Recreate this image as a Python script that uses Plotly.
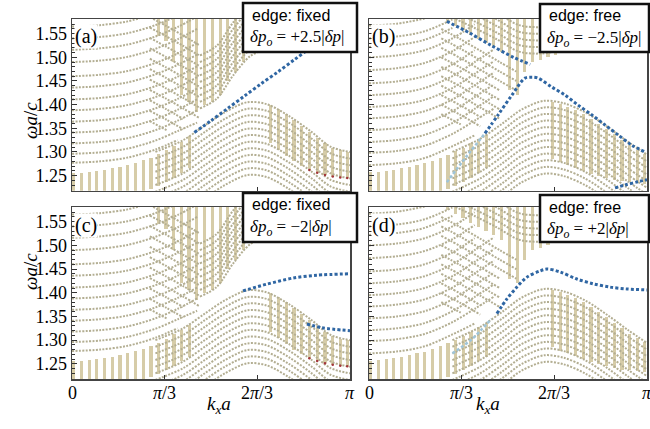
import plotly.graph_objects as go

# ---------------- tick data ----------------
K_TICKS = [0, 1/3, 2/3, 1]
K_TICK_TEXT = ["0", "<i>π</i>/3", "2<i>π</i>/3", "<i>π</i>"]
W_TICKS = [1.25, 1.30, 1.35, 1.40, 1.45, 1.50, 1.55]
W_RANGE = [1.218, 1.581]

# ---------------- bulk bands, fixed edge (panels a, c) ----------------
FIX_RISE_K = [0, 0.10, 0.20, 0.30, 0.38, 0.45]
FIX_RISE_BANDS = [
    [1.277, 1.280, 1.288, 1.305, 1.325, None],
    [1.296, 1.299, 1.307, 1.324, 1.344, 1.362],
    [1.318, 1.321, 1.329, 1.346, 1.366, 1.388],
    [1.341, 1.344, 1.352, 1.369, 1.389, 1.411],
    [1.364, 1.367, 1.375, 1.392, 1.412, 1.434],
    [1.388, 1.391, 1.399, 1.416, 1.436, 1.458],
    [1.411, 1.414, 1.422, 1.439, 1.459, 1.481],
    [1.436, 1.439, 1.447, 1.464, 1.484, 1.506],
    [1.460, 1.463, 1.471, 1.488, 1.508, 1.530],
    [1.490, 1.493, 1.501, 1.518, 1.538, 1.560],
    [1.516, 1.519, 1.527, 1.544, 1.564, 1.586],
    [1.540, 1.543, 1.551, 1.568, 1.588, None],
    [1.565, 1.568, 1.576, 1.593, None, None],
]
FIX_FALL_K = [0.28, 0.34, 0.40, 0.46]
FIX_FALL_BANDS = [
    [1.585, 1.566, 1.546, 1.525],
    [1.563, 1.544, 1.524, 1.503],
    [1.541, 1.522, 1.502, 1.481],
    [1.519, 1.500, 1.480, 1.459],
    [1.497, 1.478, 1.458, 1.437],
    [1.475, 1.456, 1.436, 1.415],
    [1.453, 1.434, 1.414, 1.393],
    [1.431, 1.412, 1.392, 1.371],
    [1.409, 1.390, 1.370, None],
    [1.387, 1.368, 1.348, None],
    [1.365, 1.346, None, None],
]
FIX_UPPER_K = [0.46, 0.52, 0.58, 0.64, 0.70, 0.76, 0.82]
FIX_UPPER_BANDS = [
    [1.392, 1.412, 1.462, 1.502, 1.518, 1.526, 1.534],
    [1.406, 1.426, 1.476, 1.516, 1.532, 1.540, 1.548],
    [1.420, 1.440, 1.490, 1.530, 1.546, 1.554, 1.562],
    [1.434, 1.454, 1.504, 1.544, 1.560, 1.568, 1.576],
    [1.448, 1.468, 1.518, 1.558, 1.574, 1.582, 1.590],
    [1.462, 1.482, 1.532, 1.572, 1.588, 1.596, 1.604],
    [1.476, 1.496, 1.546, 1.586, 1.602, 1.610, 1.618],
    [1.490, 1.510, 1.560, 1.600, 1.616, 1.624, 1.632],
    [1.504, 1.524, 1.574, 1.614, 1.630, 1.638, 1.646],
]
FIX_DOME_K = [0.30, 0.40, 0.48, 0.55, 0.63, 0.70, 0.78, 0.86, 0.93, 1.00]
FIX_DOME_BANDS = [
    [1.300, 1.325, 1.357, 1.384, 1.405, 1.401, 1.376, 1.343, 1.311, 1.300],
    [1.286, 1.311, 1.343, 1.370, 1.391, 1.387, 1.362, 1.329, 1.297, 1.286],
    [1.272, 1.297, 1.329, 1.356, 1.377, 1.373, 1.348, 1.315, 1.283, 1.272],
    [1.258, 1.283, 1.315, 1.342, 1.363, 1.359, 1.334, 1.301, 1.269, 1.258],
    [1.244, 1.269, 1.301, 1.328, 1.349, 1.345, 1.320, 1.287, 1.255, 1.244],
    [1.230, 1.255, 1.287, 1.314, 1.335, 1.331, 1.306, 1.273, 1.241, 1.230],
    [1.216, 1.241, 1.273, 1.300, 1.321, 1.317, 1.292, 1.259, 1.227, 1.216],
    [1.202, 1.227, 1.259, 1.286, 1.307, 1.303, 1.278, 1.245, 1.213, 1.202],
    [1.188, 1.213, 1.245, 1.272, 1.293, 1.289, 1.264, 1.231, 1.199, 1.188],
    [1.174, 1.199, 1.231, 1.258, 1.279, 1.275, 1.250, 1.217, 1.185, 1.174],
    [1.160, 1.185, 1.217, 1.244, 1.265, 1.261, 1.236, 1.203, 1.171, 1.160],
    [1.146, 1.171, 1.203, 1.230, 1.251, 1.247, 1.222, 1.189, 1.157, 1.146],
]
FIX_LOWBAR_K = [0.006, 0.034, 0.062, 0.089, 0.117, 0.145, 0.173, 0.200, 0.228,
                0.256, 0.284, 0.312, 0.339, 0.367, 0.395, 0.423]
FIX_LOWBAR_TOP = [1.255, 1.256, 1.258, 1.260, 1.262, 1.265, 1.268, 1.272, 1.277,
                  1.282, 1.288, 1.295, 1.303, 1.312, 1.322, 1.333]
FIX_LOWBAR_BOT = [1.215, 1.215, 1.215, 1.215, 1.215, 1.215, 1.215, 1.215, 1.215,
                  1.218, 1.222, 1.228, 1.236, 1.245, 1.255, 1.265]
FIX_UPBAR_K = [0.310, 0.338, 0.366, 0.394, 0.421, 0.449, 0.477, 0.505, 0.533,
               0.560, 0.588, 0.616, 0.644, 0.672, 0.699, 0.727, 0.755, 0.783]
FIX_UPBAR_BOT = [1.545, 1.535, 1.490, 1.420, 1.405, 1.385, 1.400, 1.405, 1.420,
                 1.450, 1.470, 1.490, 1.510, 1.515, 1.520, 1.525, 1.530, 1.540]
FIX_RBAR_K = [0.715, 0.743, 0.771, 0.799, 0.826, 0.854, 0.882, 0.910, 0.938, 0.965, 0.990]
FIX_RBAR_TOP = [1.399, 1.391, 1.380, 1.368, 1.355, 1.342, 1.330, 1.318, 1.309, 1.303, 1.300]
FIX_RBAR_BOT = [1.318, 1.305, 1.292, 1.280, 1.270, 1.262, 1.256, 1.251, 1.248, 1.246, 1.245]

# ---------------- bulk bands, free edge (panels b, d) ----------------
FREE_RISE_K = [0, 0.10, 0.20, 0.30, 0.38, 0.45]
FREE_RISE_BANDS = [
    [1.272, 1.276, 1.287, 1.312, 1.335, None],
    [1.298, 1.302, 1.313, 1.338, 1.366, 1.392],
    [1.321, 1.325, 1.336, 1.361, 1.391, 1.418],
    [1.346, 1.350, 1.361, 1.386, 1.416, 1.443],
    [1.371, 1.375, 1.386, 1.411, 1.441, 1.468],
    [1.395, 1.399, 1.410, 1.435, 1.465, 1.492],
    [1.420, 1.424, 1.435, 1.460, 1.490, 1.517],
    [1.445, 1.449, 1.460, 1.485, 1.515, None],
    [1.473, 1.477, 1.488, 1.513, 1.543, None],
    [1.500, 1.504, 1.515, 1.540, 1.570, None],
    [1.522, 1.526, 1.537, 1.562, None, None],
    [1.540, 1.544, 1.555, 1.580, None, None],
    [1.567, 1.571, 1.582, None, None, None],
]
FREE_FALL_K = [0.26, 0.33, 0.40, 0.47, 0.53]
FREE_FALL_BANDS = [
    [1.560, 1.538, 1.514, 1.490, 1.470],
    [1.540, 1.518, 1.494, 1.470, 1.450],
    [1.520, 1.498, 1.474, 1.450, 1.430],
    [1.500, 1.478, 1.454, 1.430, None],
    [1.480, 1.458, 1.434, 1.410, None],
    [1.460, 1.438, 1.414, 1.390, None],
    [1.440, 1.418, 1.394, 1.370, None],
    [1.420, 1.398, 1.374, None, None],
    [1.400, 1.378, 1.354, None, None],
    [1.380, 1.358, None, None, None],
]
FREE_UPPER_K = [0.30, 0.38, 0.46, 0.54, 0.62, 0.70, 0.78]
FREE_UPPER_BANDS = [
    [1.584, 1.562, 1.538, 1.512, 1.508, 1.516, 1.524],
    [1.598, 1.576, 1.552, 1.526, 1.522, 1.530, 1.538],
    [1.612, 1.590, 1.566, 1.540, 1.536, 1.544, 1.552],
    [1.626, 1.604, 1.580, 1.554, 1.550, 1.558, 1.566],
    [1.640, 1.618, 1.594, 1.568, 1.564, 1.572, 1.580],
]
FREE_DOME_K = [0.30, 0.40, 0.48, 0.55, 0.63, 0.70, 0.78, 0.86, 0.93, 1.00]
FREE_DOME_BANDS = [
    [1.300, 1.328, 1.360, 1.390, 1.408, 1.403, 1.383, 1.352, 1.322, 1.294],
    [1.286, 1.314, 1.346, 1.376, 1.394, 1.389, 1.369, 1.338, 1.308, 1.280],
    [1.272, 1.300, 1.332, 1.362, 1.380, 1.375, 1.355, 1.324, 1.294, 1.266],
    [1.258, 1.286, 1.318, 1.348, 1.366, 1.361, 1.341, 1.310, 1.280, 1.252],
    [1.244, 1.272, 1.304, 1.334, 1.352, 1.347, 1.327, 1.296, 1.266, 1.238],
    [1.230, 1.258, 1.290, 1.320, 1.338, 1.333, 1.313, 1.282, 1.252, 1.224],
    [1.216, 1.244, 1.276, 1.306, 1.324, 1.319, 1.299, 1.268, 1.238, 1.210],
    [1.202, 1.230, 1.262, 1.292, 1.310, 1.305, 1.285, 1.254, 1.224, 1.196],
    [1.188, 1.216, 1.248, 1.278, 1.296, 1.291, 1.271, 1.240, 1.210, 1.182],
    [1.174, 1.202, 1.234, 1.264, 1.282, 1.277, 1.257, 1.226, 1.196, 1.168],
    [1.160, 1.188, 1.220, 1.250, 1.268, 1.263, 1.243, 1.212, 1.182, 1.154],
    [1.146, 1.174, 1.206, 1.236, 1.254, 1.249, 1.229, 1.198, 1.168, 1.140],
]
FREE_LOWBAR_K = FIX_LOWBAR_K
FREE_LOWBAR_TOP = [1.257, 1.258, 1.260, 1.262, 1.265, 1.268, 1.272, 1.276, 1.281,
                   1.287, 1.294, 1.301, 1.309, 1.318, 1.327, 1.336]
FREE_LOWBAR_BOT = FIX_LOWBAR_BOT
FREE_UPBAR_K = [0.282, 0.310, 0.338, 0.366, 0.394, 0.421, 0.449, 0.477, 0.505,
                0.533, 0.560, 0.588, 0.616, 0.644, 0.672, 0.699, 0.727, 0.755, 0.783]
FREE_UPBAR_BOT = [1.575, 1.566, 1.557, 1.548, 1.539, 1.530, 1.521, 1.511, 1.430,
                  1.420, 1.470, 1.490, 1.495, 1.500, 1.505, 1.510, 1.512, 1.515, 1.520]
FREE_RBAR_K = [0.660, 0.688, 0.715, 0.743, 0.771, 0.799, 0.826, 0.854, 0.882,
               0.910, 0.938, 0.965, 0.990]
FREE_RBAR_TOP = [1.406, 1.401, 1.396, 1.389, 1.380, 1.370, 1.360, 1.349, 1.337,
                 1.326, 1.314, 1.304, 1.296]
FREE_RBAR_BOT = [1.285, 1.278, 1.272, 1.266, 1.260, 1.254, 1.249, 1.245, 1.241,
                 1.238, 1.236, 1.234, 1.233]

# ---------------- edge states ----------------
A_EDGE_K = [0.44, 0.50, 0.56, 0.62, 0.68, 0.74, 0.80, 0.86, 0.92]
A_EDGE_W = [1.341, 1.366, 1.392, 1.418, 1.444, 1.469, 1.495, 1.521, 1.546]

B_EDGE1_K = [0.28, 0.36, 0.44, 0.52, 0.58]
B_EDGE1_W = [1.576, 1.552, 1.525, 1.500, 1.485]
B_EDGE2_K = [0.417, 0.464, 0.514, 0.561, 0.586, 0.608, 0.658, 0.705, 0.752,
             0.802, 0.849, 0.896, 0.946, 0.993]
B_EDGE2_W = [1.339, 1.378, 1.420, 1.456, 1.458, 1.456, 1.437, 1.420, 1.399,
             1.378, 1.357, 1.336, 1.314, 1.300]
B_EDGE3_K = [0.885, 0.921, 0.968, 1.0]
B_EDGE3_W = [1.224, 1.230, 1.237, 1.241]
B_FAINT_K = [0.28, 0.35, 0.417]
B_FAINT_W = [1.236, 1.290, 1.339]

C_EDGE1_K = [0.615, 0.70, 0.795, 0.88, 1.0]
C_EDGE1_W = [1.404, 1.418, 1.431, 1.437, 1.440]
C_EDGE2_K = [0.845, 0.90, 1.0]
C_EDGE2_W = [1.334, 1.326, 1.320]

D_EDGE_K = [0.46, 0.496, 0.532, 0.568, 0.615, 0.64, 0.687, 0.748, 0.806, 0.867, 0.928, 1.0]
D_EDGE_W = [1.356, 1.387, 1.412, 1.433, 1.446, 1.450, 1.444, 1.429, 1.419, 1.412, 1.408, 1.406]
D_FAINT_K = [0.30, 0.37, 0.44]
D_FAINT_W = [1.272, 1.302, 1.345]

PANEL_LABELS = ["(a)", "(b)", "(c)", "(d)"]
EDGE_TYPES = ["edge: fixed", "edge: free", "edge: fixed", "edge: free"]
DELTA_TEXT = ["+2.5", "−2.5", "−2", "+2"]

# ---------------- styles ----------------
DOT_COLOR = "#b3ae92"
BAR_COLOR = "#d6cca8"
BLUE = "#2f66a3"
LIGHT_BLUE = "#9fc4d8"
RED = "#a3353a"
SERIF = "Liberation Serif, Times New Roman, Nimbus Roman, DejaVu Serif, serif"
SANS = "Liberation Sans, Arial, sans-serif"
W, H = 650, 429


def px(x):
    return x / W


def py(y):
    return 1 - y / H


fig = go.Figure()


def dotted(k, w, ax, color=DOT_COLOR, width=2.0, dash="2px,1.4px"):
    n = "" if ax == 1 else str(ax)
    fig.add_trace(go.Scatter(
        x=k, y=w, mode="lines", xaxis="x" + n, yaxis="y" + n,
        line=dict(color=color, width=width, dash=dash, shape="spline", smoothing=0.9),
        hoverinfo="skip", showlegend=False, connectgaps=False))


def bars(k, bot, top, ax, color=BAR_COLOR):
    n = "" if ax == 1 else str(ax)
    fig.add_trace(go.Bar(
        x=k, y=[t - b for t, b in zip(top, bot)], base=bot, width=0.012,
        marker=dict(color=color, line=dict(width=0)),
        xaxis="x" + n, yaxis="y" + n, hoverinfo="skip", showlegend=False))


def bulk(ax, fam):
    (rise_k, rise, fall_k, fall, up_k, up, dome_k, dome,
     lk, lb, lt, uk, ub, rk, rb, rt) = fam
    bars(lk, lb, lt, ax)
    bars(uk, ub, [1.59] * len(uk), ax)
    bars(rk, rb, rt, ax)
    for band in dome:
        dotted(dome_k, band, ax)
    for band in rise:
        dotted(rise_k, band, ax)
    for band in fall:
        dotted(fall_k, band, ax)
    for band in up:
        dotted(up_k, band, ax)


FIXED = (FIX_RISE_K, FIX_RISE_BANDS, FIX_FALL_K, FIX_FALL_BANDS, FIX_UPPER_K, FIX_UPPER_BANDS,
         FIX_DOME_K, FIX_DOME_BANDS, FIX_LOWBAR_K, FIX_LOWBAR_BOT, FIX_LOWBAR_TOP,
         FIX_UPBAR_K, FIX_UPBAR_BOT, FIX_RBAR_K, FIX_RBAR_BOT, FIX_RBAR_TOP)
FREE = (FREE_RISE_K, FREE_RISE_BANDS, FREE_FALL_K, FREE_FALL_BANDS, FREE_UPPER_K,
        FREE_UPPER_BANDS, FREE_DOME_K, FREE_DOME_BANDS, FREE_LOWBAR_K, FREE_LOWBAR_BOT,
        FREE_LOWBAR_TOP, FREE_UPBAR_K, FREE_UPBAR_BOT, FREE_RBAR_K, FREE_RBAR_BOT,
        FREE_RBAR_TOP)
bulk(1, FIXED)
bulk(3, FIXED)
bulk(2, FREE)
bulk(4, FREE)

for ax in (1, 3):
    n = "" if ax == 1 else str(ax)
    fig.add_trace(go.Scatter(x=FIX_RBAR_K[5:], y=FIX_RBAR_BOT[5:], mode="markers",
                             marker=dict(color=RED, size=2.5), xaxis="x" + n, yaxis="y" + n,
                             hoverinfo="skip", showlegend=False))

EDGE_DASH = "3px,2.2px"
dotted(A_EDGE_K, A_EDGE_W, 1, BLUE, 3, EDGE_DASH)
dotted(B_FAINT_K, B_FAINT_W, 2, LIGHT_BLUE, 2.5, EDGE_DASH)
dotted(B_EDGE1_K, B_EDGE1_W, 2, BLUE, 3, EDGE_DASH)
dotted(B_EDGE2_K, B_EDGE2_W, 2, BLUE, 3, EDGE_DASH)
dotted(B_EDGE3_K, B_EDGE3_W, 2, BLUE, 3, EDGE_DASH)
dotted(C_EDGE1_K, C_EDGE1_W, 3, BLUE, 3, EDGE_DASH)
dotted(C_EDGE2_K, C_EDGE2_W, 3, BLUE, 3, EDGE_DASH)
dotted(D_FAINT_K, D_FAINT_W, 4, LIGHT_BLUE, 2.5, EDGE_DASH)
dotted(D_EDGE_K, D_EDGE_W, 4, BLUE, 3, EDGE_DASH)

# ---------------- axes ----------------
XDOM = [[px(72), px(350)], [px(369), px(647)]]
YDOM = [[py(190.7), py(19)], [py(379), py(207)]]
axes = {}
for i in range(4):
    col, row = i % 2, i // 2
    n = "" if i == 0 else str(i + 1)
    axes["xaxis" + n] = dict(
        domain=XDOM[col], anchor="y" + n, range=[0, 1], tickmode="array",
        tickvals=K_TICKS, showticklabels=False,
        ticks="inside", ticklen=4, tickcolor="#333", showgrid=False, zeroline=False,
        showline=True, linecolor="#444", linewidth=1.5, mirror=True)
    axes["yaxis" + n] = dict(
        domain=YDOM[row], anchor="x" + n, range=W_RANGE, tickmode="array",
        tickvals=W_TICKS, ticktext=[f"{v:.2f}" for v in W_TICKS],
        showticklabels=(col == 0), ticks="inside", ticklen=5, tickcolor="#333",
        minor=dict(dtick=0.01, tick0=1.20, ticks="inside", ticklen=3, tickcolor="#333"),
        showgrid=False, zeroline=False, showline=True, linecolor="#444", linewidth=1.5,
        mirror=True, tickfont=dict(family=SERIF, size=18, color="black"))

ann = []
shapes = []
BOXES = [(243, 3, 357, 52), (540, 4, 649, 52), (243, 193, 357, 242), (540, 195, 649, 242)]
LABEL_POS = [(74, 36), (371, 36), (74, 225), (371, 225)]
for i in range(4):
    x0, y0, x1, y1 = BOXES[i]
    shapes.append(dict(type="rect", xref="paper", yref="paper", x0=px(x0), x1=px(x1),
                       y0=py(y1), y1=py(y0), fillcolor="white",
                       line=dict(color="#111", width=2.5), layer="above"))
    ann.append(dict(x=px(x0 + 7), y=py(y0 + 12), xref="paper", yref="paper",
                    text=EDGE_TYPES[i], showarrow=False, xanchor="left", yanchor="middle",
                    font=dict(family=SANS, size=16, color="black")))
    ann.append(dict(x=px(x0 + 5), y=py(y0 + 35), xref="paper", yref="paper",
                    text=f"<i>δp</i><sub><i>o</i></sub> = {DELTA_TEXT[i]}|<i>δp</i>|",
                    showarrow=False, xanchor="left", yanchor="middle",
                    font=dict(family=SERIF, size=17, color="black")))
    lx, ly = LABEL_POS[i]
    ann.append(dict(x=px(lx), y=py(ly), xref="paper", yref="paper", text=PANEL_LABELS[i],
                    showarrow=False, xanchor="left", yanchor="middle", bgcolor="white",
                    borderpad=0, font=dict(family=SERIF, size=20, color="black")))

for x0 in (72, 369):
    for kv, kt in zip(K_TICKS, K_TICK_TEXT):
        ann.append(dict(x=px(x0 + 278 * kv), y=py(393), xref="paper", yref="paper",
                        text=kt, showarrow=False, xanchor="center", yanchor="middle",
                        font=dict(family=SERIF, size=18, color="black")))

for yc in (100, 292):
    ann.append(dict(x=px(18), y=py(yc), xref="paper", yref="paper",
                    text="<i>ωa</i>/<i>c</i>", textangle=-90, showarrow=False,
                    font=dict(family=SERIF, size=19, color="black")))
for xc in (205, 502):
    ann.append(dict(x=px(xc), y=py(419), xref="paper", yref="paper",
                    text="<i>k</i><sub><i>x</i></sub><i>a</i>", showarrow=False,
                    font=dict(family=SERIF, size=19, color="black")))

fig.update_layout(width=W, height=H, margin=dict(l=0, r=0, t=0, b=0),
                  paper_bgcolor="white", plot_bgcolor="white", barmode="overlay",
                  bargap=0, shapes=shapes, annotations=ann, **axes)

# remove the default page margin so the 650x429 figure fills the window exactly
PAGE_FIX = ("document.body.style.margin='0';"
            "document.documentElement.style.overflow='hidden';"
            "document.body.style.overflow='hidden';")
fig.write_html("out.html", post_script=PAGE_FIX,
               config={"displayModeBar": False, "staticPlot": True})
